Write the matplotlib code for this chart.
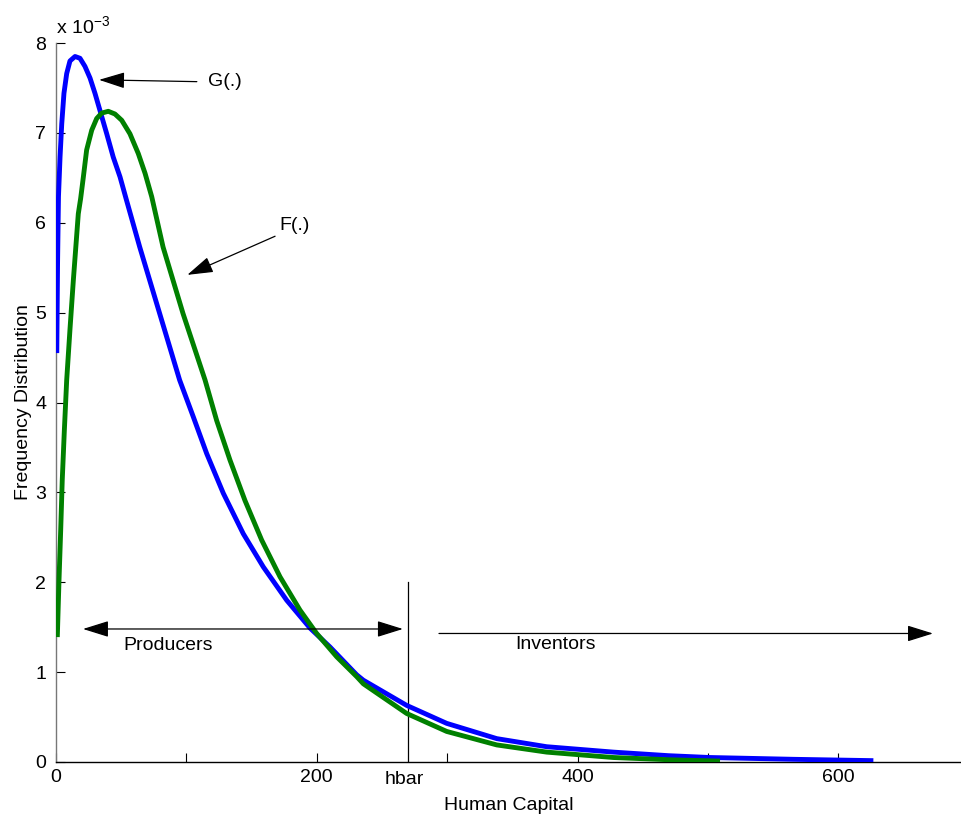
import numpy as np
import matplotlib
matplotlib.use("Agg")
import matplotlib.pyplot as plt
from matplotlib.ticker import FuncFormatter, MultipleLocator

plt.rcParams['font.family'] = ['Liberation Sans', 'DejaVu Sans']
plt.rcParams['mathtext.default'] = 'regular'

# curve G(.) (human capital, frequency x 1e-3)
g_x = [0.6, 1.2, 1.9, 3.1, 4.4, 6.1, 8.2, 10.7, 14.6, 18.4, 22.2, 26.1, 29.9, 33.7,
       38.9, 43.9, 49.1, 53.7, 64.2, 79.5, 94.8, 105.3, 115.6, 128.3, 143.6, 159,
       176.9, 194.8, 210.1, 230.6, 235.7, 268.9, 299.6, 338, 376.3, 427.4, 470,
       501.5, 565.4, 626.8]
g_y = np.array([4.55, 5.55, 6.29, 6.73, 7.10, 7.44, 7.66, 7.80, 7.85, 7.83, 7.74, 7.61,
                7.44, 7.25, 6.99, 6.73, 6.51, 6.27, 5.73, 4.99, 4.25, 3.84, 3.43, 2.99,
                2.54, 2.17, 1.80, 1.49, 1.28, 0.97, 0.91, 0.63, 0.43, 0.26, 0.17, 0.11,
                0.07, 0.05, 0.03, 0.015]) * 1e-3

# curve F(.)
f_x = [1.0, 2.3, 3.6, 4.8, 6.4, 8.2, 10.7, 13.3, 17.1, 18.9, 20.9, 23.5, 27.4, 31.2,
       35.0, 40.1, 45.2, 50.4, 56.7, 63.1, 68.3, 73.4, 82.1, 97.4, 114.3, 123.2, 133.4,
       144.9, 157.7, 171.8, 187.1, 199.9, 215.3, 230.6, 235.7, 268.9, 299.6, 338,
       376.3, 427.4, 470, 509.2]
f_y = np.array([1.39, 2.02, 2.58, 3.14, 3.69, 4.25, 4.81, 5.36, 6.10, 6.27, 6.50, 6.81,
                7.03, 7.16, 7.22, 7.24, 7.21, 7.14, 6.99, 6.77, 6.55, 6.29, 5.73, 4.99,
                4.25, 3.80, 3.36, 2.91, 2.47, 2.06, 1.69, 1.43, 1.17, 0.95, 0.87, 0.54,
                0.34, 0.19, 0.11, 0.05, 0.025, 0.01]) * 1e-3

hbar = 270
fs = 14

fig = plt.figure(figsize=(9.61, 8.15), dpi=100)
ax = fig.add_axes([56/961, 53/815, 905/961, 719/815])

ax.plot(g_x, g_y, color='#0000ff', lw=3.5, solid_joinstyle='round', solid_capstyle='butt', zorder=3)
ax.plot(f_x, f_y, color='#008000', lw=3.5, solid_joinstyle='round', solid_capstyle='butt', zorder=3)

ax.set_xlim(0, 694)
ax.set_ylim(0, 8e-3)

# only left and bottom axis lines, like the original
ax.spines['top'].set_visible(False)
ax.spines['right'].set_visible(False)
ax.spines['left'].set_color('#777777')
ax.spines['left'].set_linewidth(1.0)
ax.spines['bottom'].set_linewidth(1.0)

ax.xaxis.set_major_locator(MultipleLocator(100))
ax.yaxis.set_major_locator(MultipleLocator(1e-3))
ax.xaxis.set_major_formatter(FuncFormatter(lambda v, p: '%d' % v if round(v) % 200 == 0 else ''))
ax.yaxis.set_major_formatter(FuncFormatter(lambda v, p: '%d' % round(v * 1e3)))
ax.tick_params(direction='in', length=6.5, width=0.8, labelsize=fs)
ax.tick_params(axis='x', pad=5)
ax.tick_params(axis='y', pad=7)

ax.text(0.0, 1.008, 'x 10$^{-3}$', transform=ax.transAxes, fontsize=fs,
        ha='left', va='bottom')

ax.set_xlabel('Human Capital', fontsize=fs, labelpad=8)
ax.set_ylabel('Frequency Distribution', fontsize=fs, labelpad=2)

# hbar threshold
ax.plot([hbar, hbar], [0, 2.0e-3], color='black', lw=0.9, zorder=2)
ax.text(hbar - 3, -0.1e-3, 'hbar', fontsize=fs, ha='center', va='top')

arr = dict(arrowstyle='-|>,head_length=0.8,head_width=0.25', color='black',
           lw=0.9, shrinkA=0, shrinkB=0, mutation_scale=20)
dbl = dict(arrowstyle='<|-|>,head_length=0.8,head_width=0.25', color='black',
           lw=0.9, shrinkA=0, shrinkB=0, mutation_scale=20)

# labels for the curves
ax.annotate('', xy=(33, 7.59e-3), xytext=(108, 7.57e-3), arrowprops=arr)
ax.text(116.5, 7.57e-3, 'G(.)', fontsize=fs, ha='left', va='center')
ax.annotate('', xy=(100.7, 5.42e-3), xytext=(168, 5.85e-3), arrowprops=arr)
ax.text(171, 5.97e-3, 'F(.)', fontsize=fs, ha='left', va='center')

# producers / inventors ranges
ax.annotate('', xy=(20.7, 1.48e-3), xytext=(266, 1.48e-3), arrowprops=dbl)
ax.text(52, 1.30e-3, 'Producers', fontsize=fs, ha='left', va='center')
ax.annotate('', xy=(672.5, 1.43e-3), xytext=(293.7, 1.43e-3), arrowprops=arr)
ax.text(352, 1.31e-3, 'Inventors', fontsize=fs, ha='left', va='center')

fig.savefig('out.png', dpi=100)
